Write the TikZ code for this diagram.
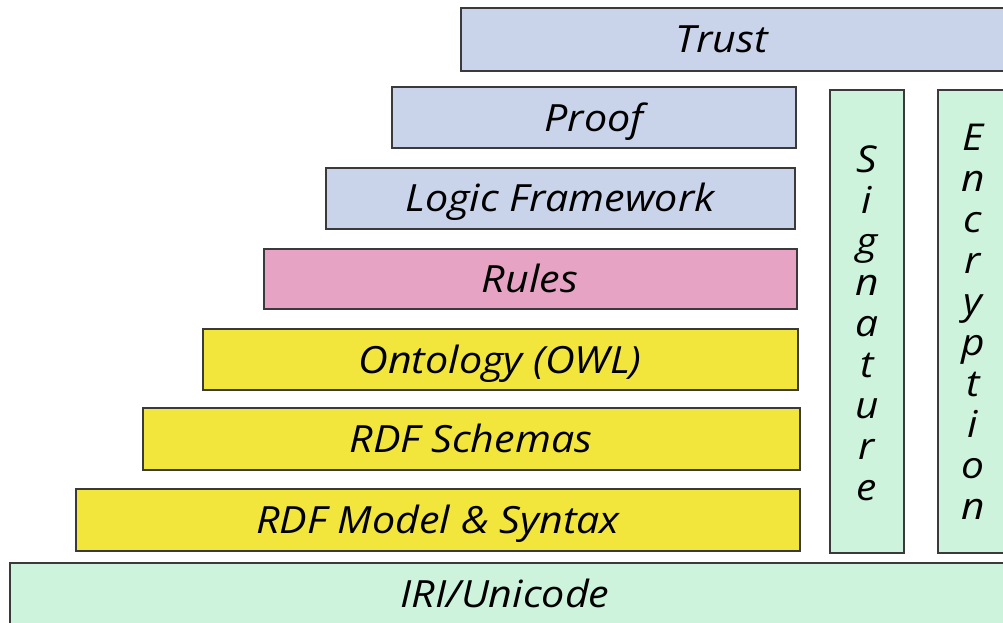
\documentclass[tikz,border=0pt]{standalone}
\usepackage{fontspec}
\setmainfont{Open Sans}[FakeStretch=1.1]
\definecolor{lav}{HTML}{C9D3EA}
\definecolor{pinkc}{HTML}{E6A3C4}
\definecolor{yel}{HTML}{F2E63C}
\definecolor{mint}{HTML}{CDF3DC}
\definecolor{edge}{HTML}{3A3A3A}
\begin{document}
\begin{tikzpicture}[x=1pt,y=-1pt,
  layer/.style={draw=edge,line width=1.6pt},
  lbl/.style={font=\fontsize{37.5}{44}\selectfont\itshape,text=black,inner sep=0pt,anchor=base},
  vl/.style={font=\fontsize{37}{41}\selectfont\itshape,text=black,inner sep=0pt,anchor=base}]
\useasboundingbox (0,0) rectangle (1003,622);
\clip (0,0) rectangle (1003,622);
\fill[white] (0,0) rectangle (1003,622);
% layers
\filldraw[layer,fill=lav] (461,8) rectangle (1020,71);
\node[lbl] (trust) at (722,52) {Trust};
\filldraw[layer,fill=lav] (392,87) rectangle (796,148);
\node[lbl] (proof) at (594,131) {Proof};
\filldraw[layer,fill=lav] (326,168) rectangle (795,229);
\node[lbl] (logic) at (560,211) {Logic Framework};
\filldraw[layer,fill=pinkc] (264,249) rectangle (797,309);
\node[lbl] (rules) at (530,292) {Rules};
\filldraw[layer,fill=yel] (203,329) rectangle (798,390);
\node[lbl] (onto) at (500,373) {Ontology (OWL)};
\filldraw[layer,fill=yel] (143,408) rectangle (800,470);
\node[lbl] (rdfs) at (471,452) {RDF Schemas};
\filldraw[layer,fill=yel] (76,489) rectangle (800,551);
\node[lbl] (rdfm) at (438,533) {RDF Model \& Syntax};
\filldraw[layer,fill=mint] (10,563) rectangle (1020,640);
\node[lbl] (iri) at (505,607) {IRI/Unicode};
\filldraw[layer,fill=mint] (830,90) rectangle (904,553);
\foreach \l [count=\i] in {S,i,g,n,a,t,u,r,e}
  \node[vl] (sig\i) at (867,{172+41*(\i-1)}) {\l};
\filldraw[layer,fill=mint] (938,90) rectangle (1020,553);
\foreach \l [count=\i] in {E,n,c,r,y,p,t,i,o,n}
  \node[vl] (enc\i) at (973,{150+41.1*(\i-1)}) {\l};
\end{tikzpicture}
\end{document}
